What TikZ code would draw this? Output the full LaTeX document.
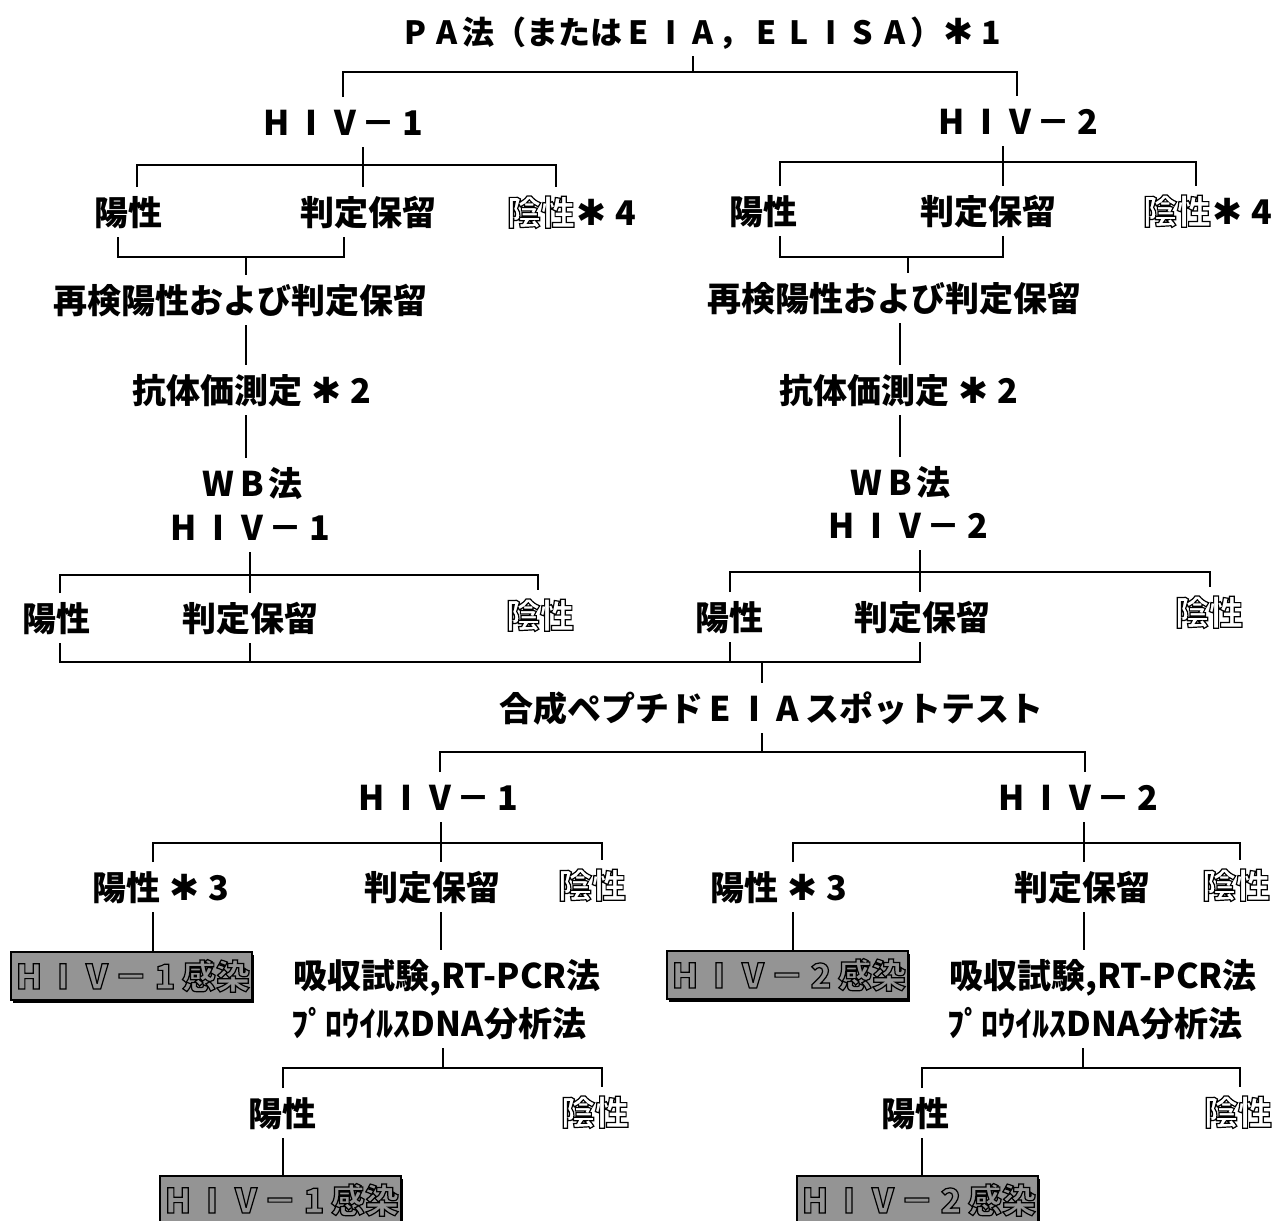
\documentclass[tikz,border=0pt]{standalone}
\usepackage{fontspec}
\newfontfamily\jp{Noto Sans CJK JP}
\newfontfamily\dv{DejaVu Sans}
\usetikzlibrary{shadows,calc}
\definecolor{boxgray}{gray}{0.58}
% hollow (outlined) text via PDF text rendering mode 1
\newcommand{\outl}[1]{\special{pdf:literal 1 Tr 1.2 w}#1\special{pdf:literal 0 Tr}}
% a half-width glyph set in a full-width cell
\newcommand{\fw}[1]{\makebox[1em]{#1}}
\newcommand{\astr}{\makebox[1em]{{\dv\fontsize{36}{40}\selectfont ✱}}}
\tikzset{
  lbl/.style={inner sep=0pt, outer xsep=0pt, outer ysep=10pt,
    font=\jp\bfseries\fontsize{34}{40}\selectfont, text height=28pt, text depth=2pt},
  ttl/.style={lbl, font=\jp\bfseries\fontsize{32}{38}\selectfont},
  infbox/.style={draw=black, line width=2pt, fill=boxgray, minimum width=241pt,
    minimum height=48pt, inner sep=0pt,
    font=\jp\bfseries\fontsize{34}{40}\selectfont, text height=28pt, text depth=2pt,
    drop shadow={shadow xshift=2.5pt, shadow yshift=-2.5pt, opacity=1, fill=black}},
  ln/.style={line width=2pt, draw=black}
}
\newcommand{\hivone}{\fw{H}\fw{I}\fw{V}－\fw{1}}
\newcommand{\hivtwo}{\fw{H}\fw{I}\fw{V}－\fw{2}}
\begin{document}
\begin{tikzpicture}[x=1pt,y=-1pt]
\fill[white] (0,0) rectangle (1280,1221);
\useasboundingbox (0,0) rectangle (1280,1221);

% ---------- nodes ----------
\node[ttl] (title) at (703,31) {\fw{P}\fw{A}法（または\fw{E}\fw{I}\fw{A}，\fw{E}\fw{L}\fw{I}\fw{S}\fw{A}）\astr\fw{1}};
\node[lbl] (h1) at (345,122) {\hivone};
\node[lbl] (h2) at (1020,121) {\hivtwo};
\node[lbl] (p1) at (128,212) {陽性};
\node[lbl] (r1) at (368,212) {判定保留};
\node[lbl] (n1) at (575,212) {\outl{陰性}\astr\fw{4}};
\node[lbl] (p2) at (763,211) {陽性};
\node[lbl] (r2) at (988,211) {判定保留};
\node[lbl] (n2) at (1211,211) {\outl{陰性}\astr\fw{4}};
\node[lbl] (re1) at (240,300) {再検陽性および判定保留};
\node[lbl] (re2) at (894,298) {再検陽性および判定保留};
\node[lbl] (ab1) at (255,390) {抗体価測定 \astr\fw{2}};
\node[lbl] (ab2) at (902,390) {抗体価測定 \astr\fw{2}};
\node[lbl] (wb1) at (252,483) {\fw{W}\fw{B}法};
\node[lbl] (wh1) at (252,527) {\hivone};
\node[lbl] (wb2) at (900,482) {\fw{W}\fw{B}法};
\node[lbl] (wh2) at (910,525) {\hivtwo};
\node[lbl] (wp1) at (56,618) {陽性};
\node[lbl] (wr1) at (250,618) {判定保留};
\node[lbl] (wn1) at (540,615) {\outl{陰性}};
\node[lbl] (wp2) at (729,617) {陽性};
\node[lbl] (wr2) at (922,617) {判定保留};
\node[lbl] (wn2) at (1209,612) {\outl{陰性}};
\node[lbl] (sp) at (771,708) {合成ペプチド\fw{E}\fw{I}\fw{A}スポットテスト};
\node[lbl] (sh1) at (440,797) {\hivone};
\node[lbl] (sh2) at (1080,797) {\hivtwo};
\node[lbl] (sp1) at (164,887) {陽性 \astr\fw{3}};
\node[lbl] (sr1) at (432,887) {判定保留};
\node[lbl] (sn1) at (592,885) {\outl{陰性}};
\node[lbl] (sp2) at (782,887) {陽性 \astr\fw{3}};
\node[lbl] (sr2) at (1082,887) {判定保留};
\node[lbl] (sn2) at (1236,885) {\outl{陰性}};
\node[infbox] (box1) at (131,976) {\outl{\hivone 感染}};
\node[infbox] (box2) at (787,975) {\outl{\hivtwo 感染}};
\node[lbl] (abs1) at (447,975) {吸収試験,RT-PCR法};
\node[lbl] (pro1) at (439,1023) {ﾌﾟﾛｳｲﾙｽDNA分析法};
\node[lbl] (abs2) at (1103,975) {吸収試験,RT-PCR法};
\node[lbl] (pro2) at (1095,1023) {ﾌﾟﾛｳｲﾙｽDNA分析法};
\node[lbl] (fp1) at (282,1113) {陽性};
\node[lbl] (fn1) at (595,1112) {\outl{陰性}};
\node[lbl] (fp2) at (915,1113) {陽性};
\node[lbl] (fn2) at (1238,1112) {\outl{陰性}};
\node[infbox] (fbox1) at (280,1200) {\outl{\hivone 感染}};
\node[infbox] (fbox2) at (917,1200) {\outl{\hivtwo 感染}};

% ---------- connectors ----------
\coordinate (t0) at (693,72);
\draw[ln] (title.south -| t0) -- (t0);
\draw[ln] ([xshift=-2pt]h1.north) |- (t0) -| ([xshift=-3pt]h2.north);

\coordinate (a1) at (363,165);
\draw[ln] (h1.south -| a1) -- (r1.north -| a1);
\draw[ln] ([xshift=9pt]p1.north) |- (a1) -| ([xshift=-19pt]n1.north);
\coordinate (a2) at (1003,162);
\draw[ln] (h2.south -| a2) -- (r2.north -| a2);
\draw[ln] ([xshift=17pt]p2.north) |- (a2) -| ([xshift=-15pt]n2.north);

\coordinate (m1) at (246,257);
\draw[ln] ([xshift=-10pt]p1.south) |- (m1) -| ([xshift=-24pt]r1.south);
\draw[ln] (m1) -- (re1.north -| m1);
\coordinate (m2) at (908,257);
\draw[ln] ([xshift=17pt]p2.south) |- (m2) -| ([xshift=15pt]r2.south);
\draw[ln] (m2) -- (re2.north -| m2);

\draw[ln] (re1.south -| m1) -- (ab1.north -| m1);
\draw[ln] (ab1.south -| m1) -- (wb1.north -| m1);
\coordinate (v2) at (900,0);
\draw[ln] (re2.south -| v2) -- (ab2.north -| v2);
\draw[ln] (ab2.south -| v2) -- (wb2.north -| v2);

\coordinate (w1) at (250,575);
\draw[ln] (wh1.south -| w1) -- (wr1.north -| w1);
\draw[ln] ([xshift=4pt]wp1.north) |- (w1) -| ([xshift=-2pt]wn1.north);
\coordinate (w2) at (920,572);
\draw[ln] (wh2.south -| w2) -- (wr2.north -| w2);
\draw[ln] ([xshift=1pt]wp2.north) |- (w2) -| ([xshift=1pt]wn2.north);

\coordinate (m3) at (762,662);
\draw[ln] ([xshift=4pt]wp1.south) |- (m3) -| (wr2.south -| w2);
\draw[ln] (wr1.south -| w1) -- (w1 |- m3);
\draw[ln] ([xshift=1pt]wp2.south) -- ([xshift=1pt]wp2.south |- m3);
\draw[ln] (m3) -- (sp.north -| m3);

\coordinate (s0) at (762,752);
\draw[ln] (sp.south -| s0) -- (s0);
\draw[ln] (sh1.north) |- (s0) -| ([xshift=5pt]sh2.north);

\coordinate (s1) at (441,843);
\draw[ln] (sh1.south -| s1) -- (sr1.north -| s1);
\draw[ln] ([xshift=-11pt]sp1.north) |- (s1) -| ([xshift=10pt]sn1.north);
\coordinate (s2) at (1084,843);
\draw[ln] (sh2.south -| s2) -- (sr2.north -| s2);
\draw[ln] ([xshift=11pt]sp2.north) |- (s2) -| ([xshift=4pt]sn2.north);

\draw[ln] ([xshift=-11pt]sp1.south) -- ([xshift=-11pt]sp1.south |- box1.north);
\draw[ln] (sr1.south -| s1) -- (abs1.north -| s1);
\draw[ln] ([xshift=11pt]sp2.south) -- ([xshift=11pt]sp2.south |- box2.north);
\draw[ln] (sr2.south -| s2) -- (abs2.north -| s2);

\coordinate (s3) at (443,1068);
\draw[ln] (pro1.south -| s3) -- (s3);
\draw[ln] ([xshift=1pt]fp1.north) |- (s3) -| ([xshift=7pt]fn1.north);
\draw[ln] ([xshift=1pt]fp1.south) -- ([xshift=1pt]fp1.south |- fbox1.north);
\coordinate (s4) at (1083,1068);
\draw[ln] (pro2.south -| s4) -- (s4);
\draw[ln] ([xshift=7pt]fp2.north) |- (s4) -| ([xshift=2pt]fn2.north);
\draw[ln] ([xshift=7pt]fp2.south) -- ([xshift=7pt]fp2.south |- fbox2.north);
\end{tikzpicture}
\end{document}
